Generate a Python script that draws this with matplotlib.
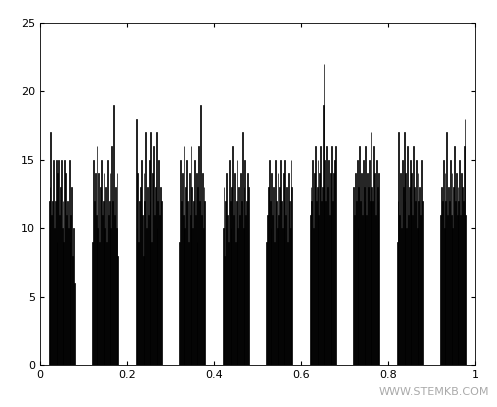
import matplotlib
matplotlib.use("Agg")
import matplotlib.pyplot as plt
import numpy as np

cluster_starts = [0.02, 0.12, 0.22, 0.32, 0.42, 0.52, 0.62, 0.72, 0.82, 0.92]
bin_width = 0.002
c1 = [12,13,17,11,12,15,10,12,15,9,14,15,11,13,15,10,12,9,15,14,11,12,10,15,9,11,13,8,10,6]
c2 = [9,15,12,14,11,16,10,14,9,13,15,11,12,14,10,13,9,15,11,12,14,10,16,12,19,11,13,10,14,8]
c3 = [18,10,14,9,12,13,15,11,8,14,12,17,10,13,11,15,12,17,9,14,16,11,13,17,10,12,15,11,13,12]
c4 = [9,15,12,14,11,16,10,13,15,12,9,14,11,16,13,10,12,15,11,14,9,13,16,12,19,11,14,10,13,12]
c5 = [10,13,8,12,14,11,9,15,12,10,13,16,11,14,9,12,15,10,13,11,14,12,17,10,13,15,11,12,14,13]
c6 = [9,11,13,15,12,10,14,11,13,9,15,12,10,14,11,13,15,12,10,14,12,15,11,13,9,14,12,10,15,13]
c7 = [11,13,12,15,10,14,16,12,13,15,11,14,16,12,13,19,22,15,12,16,13,15,11,14,13,16,12,14,15,16]
c8 = [13,11,14,12,15,10,13,16,12,14,11,15,13,12,16,11,14,13,15,12,17,13,12,16,14,11,15,13,12,14]
c9 = [9,12,17,11,14,10,15,13,17,12,14,10,16,11,13,15,12,14,11,16,13,12,15,10,14,12,13,11,15,12]
c10 = [11,13,12,15,10,14,12,17,11,13,12,15,11,14,10,13,16,12,14,11,13,12,15,11,14,13,12,16,18,11]
clusters = [c1, c2, c3, c4, c5, c6, c7, c8, c9, c10]

fig = plt.figure(figsize=(4.97, 4.07), dpi=100)
ax = fig.add_axes([40/497, 42/407, 435/497, 342/407])
for start, vals in zip(cluster_starts, clusters):
    x = start + bin_width * np.arange(len(vals))
    ax.bar(x, vals, width=bin_width, align='edge', color='black',
           edgecolor='black', linewidth=0.5)
ax.set_xlim(0, 1)
ax.set_ylim(0, 25)
ax.set_xticks([0, 0.2, 0.4, 0.6, 0.8, 1])
ax.set_xticklabels(['0', '0.2', '0.4', '0.6', '0.8', '1'])
ax.set_yticks([0, 5, 10, 15, 20, 25])
ax.tick_params(direction='in', labelsize=8, top=True, right=True, length=3)
for s in ax.spines.values():
    s.set_linewidth(0.6)
fig.text(0.985, 0.025, 'WWW.STEMKB.COM', ha='right', va='bottom',
         color='#aaaaaa', fontsize=8)
fig.savefig('out.png', dpi=100)
